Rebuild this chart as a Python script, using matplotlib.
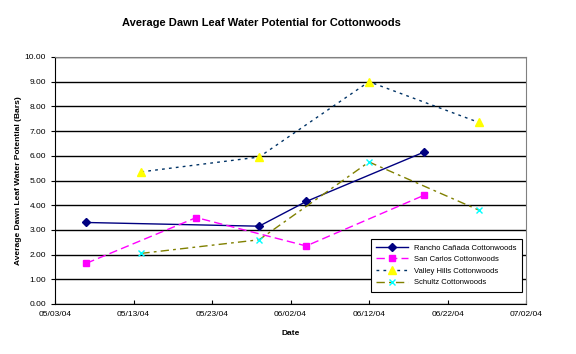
import numpy as np
import pandas as pd
import matplotlib
matplotlib.use('Agg')
import matplotlib.pyplot as plt
import matplotlib.dates as mdates

plt.rcParams['font.family'] = ['Liberation Sans', 'DejaVu Sans']

# 読み取り値（日付・水ポテンシャル）
rancho_dates = ['2004-05-07', '2004-05-29', '2004-06-04', '2004-06-19']
rancho_vals = [3.30, 3.15, 4.15, 6.15]

sancarlos_dates = ['2004-05-07', '2004-05-21', '2004-06-04', '2004-06-19']
sancarlos_vals = [1.65, 3.50, 2.35, 4.40]

valley_dates = ['2004-05-14', '2004-05-29', '2004-06-12', '2004-06-26']
valley_vals = [5.35, 5.95, 9.00, 7.35]

schultz_dates = ['2004-05-14', '2004-05-29', '2004-06-12', '2004-06-26']
schultz_vals = [2.05, 2.60, 5.75, 3.80]

tick_dates = ['2004-05-03', '2004-05-13', '2004-05-23', '2004-06-02',
              '2004-06-12', '2004-06-22', '2004-07-02']

fig = plt.figure(figsize=(5.76, 3.54), dpi=100)
ax = fig.add_axes([55 / 576, 1 - 304 / 354, 471 / 576, 247 / 354])

ax.plot(pd.to_datetime(rancho_dates), rancho_vals, color='#000080', lw=1,
        marker='D', ms=4.5, mfc='#000080', mec='#000080',
        label='Rancho Cañada Cottonwoods', zorder=3)
ax.plot(pd.to_datetime(sancarlos_dates), sancarlos_vals, color='#FF00FF', lw=1,
        ls=(0, (6, 3)), marker='s', ms=5, mfc='#FF00FF', mec='#FF00FF',
        label='San Carlos Cottonwoods', zorder=3)
ax.plot(pd.to_datetime(valley_dates), valley_vals, color='#003366', lw=1,
        ls=(0, (2, 3)), marker='^', ms=6, mfc='#FFFF00', mec='#FFFF00',
        label='Valley Hills Cottonwoods', zorder=3)
ax.plot(pd.to_datetime(schultz_dates), schultz_vals, color='#808000', lw=1,
        ls=(0, (6, 3, 2, 3)), marker='x', ms=5, mfc='#00FFFF', mec='#00FFFF',
        label='Schultz Cottonwoods', zorder=3)

ax.set_ylim(0, 10)
ax.set_yticks(np.arange(0, 10.5, 1))
ax.set_yticklabels([f'{v:.2f}' for v in np.arange(0, 10.5, 1)], fontsize=6)
ax.set_xlim(pd.Timestamp(tick_dates[0]), pd.Timestamp(tick_dates[-1]))
ax.set_xticks(pd.to_datetime(tick_dates))
ax.xaxis.set_major_formatter(mdates.DateFormatter('%m/%d/%y'))
ax.tick_params(axis='x', labelsize=6, length=3, direction='in', pad=5)
ax.tick_params(axis='y', labelsize=6, length=3, direction='out')

ax.grid(axis='y', color='black', lw=1)
ax.set_axisbelow(True)
ax.spines['top'].set_color('#808080')
ax.spines['right'].set_color('#808080')
ax.spines['left'].set_color('black')
ax.spines['bottom'].set_color('black')

ax.set_ylabel('Average Dawn Leaf Water Potential (Bars)', fontsize=6,
              fontweight='bold')
ax.yaxis.set_label_coords(-(55 - 22) / 471, 0.5)
ax.set_xlabel('Date', fontsize=6, fontweight='bold')
ax.xaxis.set_label_coords(0.5, -(330 - 304) / 247)
fig.text(261 / 576, 1 - 23 / 354, 'Average Dawn Leaf Water Potential for Cottonwoods',
         fontsize=8, fontweight='bold', ha='center', va='center')

leg = ax.legend(loc='lower right', bbox_to_anchor=(1.0, 0.035), fontsize=5.5,
                frameon=True, fancybox=False, edgecolor='black',
                framealpha=1, handlelength=4.2, borderpad=0.7, labelspacing=0.55)
leg.get_frame().set_linewidth(0.8)

fig.savefig('out.png', dpi=100)
